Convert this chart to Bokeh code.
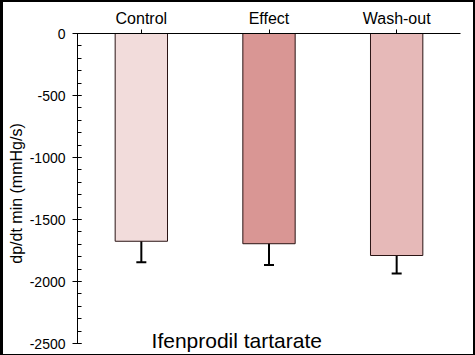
from bokeh.plotting import figure
from bokeh.models import (ColumnDataSource, Whisker, TeeHead, Label, Range1d,
                          FactorRange, SingleIntervalTicker, PrintfTickFormatter)
from bokeh.embed import file_html
from bokeh.resources import INLINE

categories = ["Control", "Effect", "Wash-out"]
means = [-1675, -1695, -1790]
errors = [170, 172, 145]
colors = ["#F2DCDB", "#D99694", "#E6B9B8"]
title_text = "Ifenprodil tartarate"
y_label = "dp/dt min (mmHg/s)"

FONT = "Liberation Sans"

src = ColumnDataSource(dict(
    cat=categories, top=[0] * len(categories), bottom=means, color=colors,
    lower=[m - e for m, e in zip(means, errors)],
    upper=[m + e for m, e in zip(means, errors)],
))

p = figure(width=475, height=355, output_backend="svg", toolbar_location=None,
           x_range=FactorRange(*categories, range_padding=0),
           y_range=Range1d(-2580, 0),
           x_axis_location="above",
           min_border_left=74, min_border_right=18, min_border_top=31, min_border_bottom=4,
           styles={"border-left": "3px solid black", "border-top": "2px solid black",
                   "border-right": "2px solid black", "border-bottom": "1px solid black"})
p.outline_line_color = None
p.xgrid.visible = False
p.ygrid.visible = False
p.background_fill_color = "white"
p.border_fill_color = "white"

p.vbar(x="cat", top="top", bottom="bottom", width=0.41, fill_color="color",
       line_color="#2a1414", line_width=1, source=src)

w = Whisker(base="cat", lower="lower", upper="upper", source=src,
            line_color="black", line_width=2,
            lower_head=TeeHead(size=10, line_color="black", line_width=2),
            upper_head=TeeHead(size=10, line_color="black", line_width=2))
p.add_layout(w)

xa = p.xaxis[0]
xa.axis_line_color = "black"
xa.major_tick_line_color = "black"
xa.major_tick_out = 4
xa.major_tick_in = 0
xa.minor_tick_line_color = None
xa.major_label_text_font = FONT
xa.major_label_text_font_size = "16px"
xa.major_label_text_color = "black"
xa.major_label_standoff = 3

ya = p.yaxis[0]
ya.ticker = SingleIntervalTicker(interval=500, num_minor_ticks=5)
ya.formatter = PrintfTickFormatter(format="%d")
ya.bounds = (-2500, 0)
ya.axis_line_color = "black"
ya.major_tick_out = 5
ya.major_tick_in = 4
ya.minor_tick_out = 0
ya.minor_tick_in = 4
ya.major_label_text_font = FONT
ya.major_label_text_font_size = "14px"
ya.major_label_text_color = "black"
ya.major_label_standoff = 7
ya.axis_label = y_label
ya.axis_label_text_font = FONT
ya.axis_label_text_font_size = "16px"
ya.axis_label_text_font_style = "normal"
ya.axis_label_text_color = "black"
ya.axis_label_standoff = 2

lab = Label(x=0.58, y=-2478, text=title_text, text_font=FONT, text_font_size="21px",
            text_align="left", text_baseline="alphabetic", text_color="black")
p.add_layout(lab)

open("out.html", "w").write(file_html(p, INLINE))
